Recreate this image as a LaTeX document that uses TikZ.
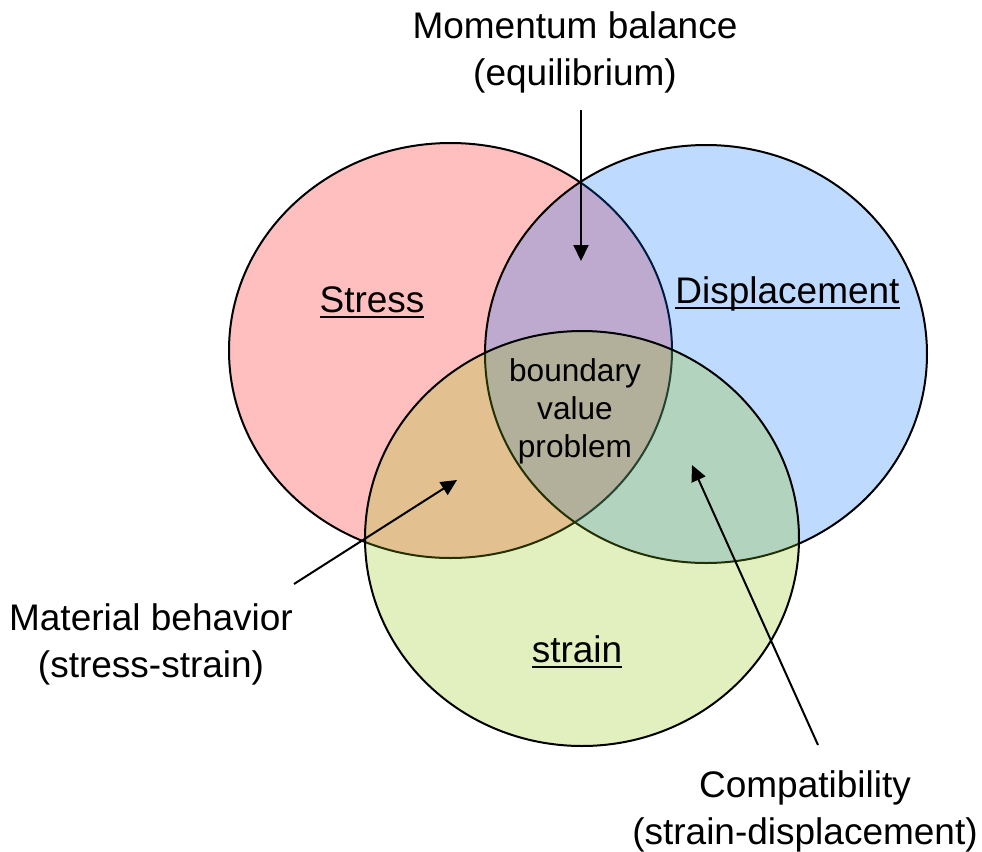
\documentclass[tikz,border=0pt]{standalone}
\usepackage{fontspec}
\setmainfont{Liberation Sans}
\usetikzlibrary{shapes.geometric,arrows.meta}
\definecolor{redbase}{RGB}{255,0,0}
\definecolor{bluebase}{RGB}{0,111,255}
\definecolor{greenbase}{RGB}{143,195,3}
\newcommand{\myul}[1]{\setbox0\hbox{#1}\rlap{\raisebox{-3.2pt}{\rule{\wd0}{1pt}}}\box0}
\tikzset{
  venn/.style={ellipse, draw=black, line width=1pt, fill opacity=0.25, draw opacity=1, inner sep=0pt, outer sep=0pt},
  bigtext/.style={font=\fontsize{18.5}{23.5}\selectfont, align=center, inner sep=0pt},
  midtext/.style={font=\fontsize{15.8}{19}\selectfont, align=center, inner sep=0pt},
  pointer/.style={line width=1pt, -{Triangle[length=8pt,width=7.5pt]}}
}
\begin{document}
\begin{tikzpicture}[x=0.5pt,y=-0.5pt]
\fill[white] (0,0) rectangle (982,852);
\useasboundingbox (0,0) rectangle (982,852);
% circles
\node[venn, fill=redbase, minimum width=221.5pt, minimum height=207.5pt] (stresscirc) at (450.5,350.5) {};
\node[venn, fill=bluebase, minimum width=221pt, minimum height=209pt] (dispcirc) at (706,354) {};
\node[venn, fill=greenbase, minimum width=217pt, minimum height=207.5pt] (straincirc) at (582,538.5) {};
% labels
\node[bigtext, anchor=base] (stress) at (372,312) {\myul{Stress}};
\node[bigtext, anchor=base] (disp) at (787.5,303) {\myul{Displacement}};
\node[bigtext, anchor=base] (strain) at (577,662) {\myul{strain}};
\node[midtext] (bvp) at (575,411) {boundary\\value\\problem};
\node[bigtext] (mom) at (575,52) {Momentum balance\\(equilibrium)};
\node[bigtext] (mat) at (151,644) {Material behavior\\(stress-strain)};
\node[bigtext] (comp) at (805,811) {Compatibility\\(strain-displacement)};
% arrows
\coordinate (momtail) at (581,110);
\coordinate (momtip) at (581,261);
\coordinate (mattail) at (294,584);
\coordinate (mattip) at (457,480);
\coordinate (comptail) at (818,745);
\coordinate (comptip) at (692,465);
\draw[pointer] (momtail) -- (momtip);
\draw[pointer] (mattail) -- (mattip);
\draw[pointer] (comptail) -- (comptip);
\end{tikzpicture}
\end{document}
